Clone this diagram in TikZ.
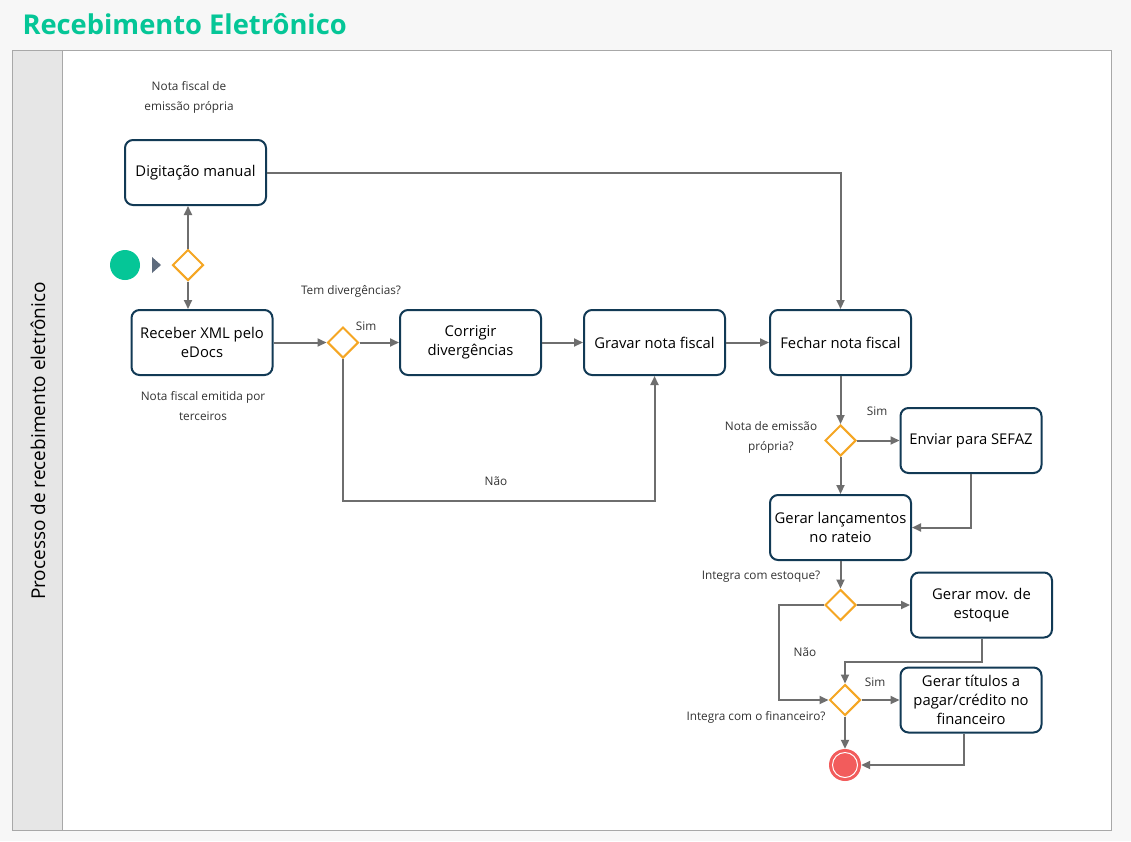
\documentclass[tikz,border=0pt]{standalone}
\usepackage{fontspec}
\setmainfont{Open Sans}
\usetikzlibrary{arrows.meta,shapes.geometric}
\definecolor{bgc}{HTML}{F7F7F7}
\definecolor{lanec}{HTML}{E6E6E6}
\definecolor{poolc}{HTML}{A8A8A8}
\definecolor{greenc}{HTML}{05C697}
\definecolor{navyc}{HTML}{123A55}
\definecolor{orangec}{HTML}{F5A623}
\definecolor{flowc}{HTML}{6E6E6E}
\definecolor{redc}{HTML}{F25C5C}
\definecolor{slatec}{HTML}{5E6B7D}
\definecolor{txtc}{HTML}{333333}
\begin{document}
\begin{tikzpicture}[x=1pt,y=-1pt,
  task/.style={draw=navyc, line width=2pt, fill=white, rounded corners=8pt,
    minimum width=141pt, minimum height=65pt, align=center, inner sep=2pt,
    font=\fontsize{14.8}{19}\selectfont, text=black},
  gate/.style={diamond, draw=orangec, line width=2pt, fill=white,
    minimum size=31pt, inner sep=0pt},
  flow/.style={draw=flowc, line width=2pt, -{Triangle[length=9pt,width=8pt]}},
  lbl/.style={font=\fontsize{11.8}{20}\selectfont, text=txtc, align=center, inner sep=0pt}]
\fill[bgc] (0,0) rectangle (1131,841);
\useasboundingbox (0,0) rectangle (1131,841);
% title
\node[anchor=west, font=\fontsize{27.3}{32}\selectfont\bfseries, text=greenc] (title) at (19,24) {Recebimento Eletrônico};
% pool
\draw[poolc, line width=1pt, fill=lanec] (12,50) rectangle (1111,830);
\draw[poolc, line width=1pt, fill=white] (62,50) rectangle (1111,830);
\node[rotate=90, font=\fontsize{19}{22}\selectfont, text=black] (lane) at (38,441) {Processo de recebimento eletrônico};
% events
\node[circle, fill=greenc, minimum size=30pt, inner sep=0pt] (start) at (125,265) {};
\fill[slatec] (152,257) -- (161,265) -- (152,273) -- cycle;
\node[circle, fill=redc, minimum size=32pt, inner sep=0pt] (end) at (845,765) {};
\draw[white, line width=1pt] (end.center) circle (12.5pt);
% tasks
\node[task] (dig) at (195.5,172.5) {Digitação manual};
\node[task] (rec) at (202,342.5) {Receber XML pelo\\eDocs};
\node[task] (cor) at (470.5,342.5) {Corrigir\\divergências};
\node[task] (grav) at (654.5,342.5) {Gravar nota fiscal};
\node[task] (fech) at (840.5,342.5) {Fechar nota fiscal};
\node[task] (env) at (971,440.5) {Enviar para SEFAZ};
\node[task] (ger) at (840.5,527.5) {Gerar lançamentos\\no rateio};
\node[task] (mov) at (981.5,605) {Gerar mov. de\\estoque};
\node[task] (tit) at (971,700) {Gerar títulos a\\pagar/crédito no\\financeiro};
% gateways
\node[gate] (g1) at (188,265) {};
\node[gate] (g2) at (343,342.5) {};
\node[gate] (g3) at (840.5,440.5) {};
\node[gate] (g4) at (840.5,605) {};
\node[gate] (g5) at (845,700) {};
% flows
\draw[flow] (g1.north) -- (g1.north |- dig.south);
\draw[flow] (g1.south) -- (g1.south |- rec.north);
\draw[flow] (dig.east) -| (fech.north);
\draw[flow] (rec.east) -- (g2.west);
\draw[flow] (g2.east) -- (cor.west);
\draw[flow] (cor.east) -- (grav.west);
\draw[flow] (g2.south) -- ++(0,142) -| (grav.south);
\draw[flow] (grav.east) -- (fech.west);
\draw[flow] (fech.south) -- (g3.north);
\draw[flow] (g3.east) -- (env.west);
\draw[flow] (g3.south) -- (ger.north);
\draw[flow] (env.south) |- (ger.east);
\draw[flow] (ger.south) -- (g4.north);
\draw[flow] (g4.east) -- (mov.west);
\draw[flow] (g4.west) -- ++(-45,0) |- (g5.west);
\draw[flow] (mov.south) -- ++(0,23) -| (g5.north);
\draw[flow] (g5.east) -- (tit.west);
\draw[flow] (g5.south) -- (end.north);
\draw[flow] ([xshift=-7pt]tit.south) |- (end.east);
% labels
\node[lbl] (l1) at (189,97) {Nota fiscal de\\emissão própria};
\node[lbl] (l2) at (203,406) {Nota fiscal emitida por\\terceiros};
\node[lbl] (l3) at (351,291) {Tem divergências?};
\node[lbl] (l4) at (366,326) {Sim};
\node[lbl] (l5) at (496,481) {Não};
\node[lbl] (l6) at (877,411) {Sim};
\node[lbl] (l7) at (771,437) {Nota de emissão\\própria?};
\node[lbl] (l8) at (761,577) {Integra com estoque?};
\node[lbl] (l9) at (805,652) {Não};
\node[lbl] (l10) at (875,682) {Sim};
\node[lbl] (l11) at (756,717) {Integra com o financeiro?};
\end{tikzpicture}
\end{document}
